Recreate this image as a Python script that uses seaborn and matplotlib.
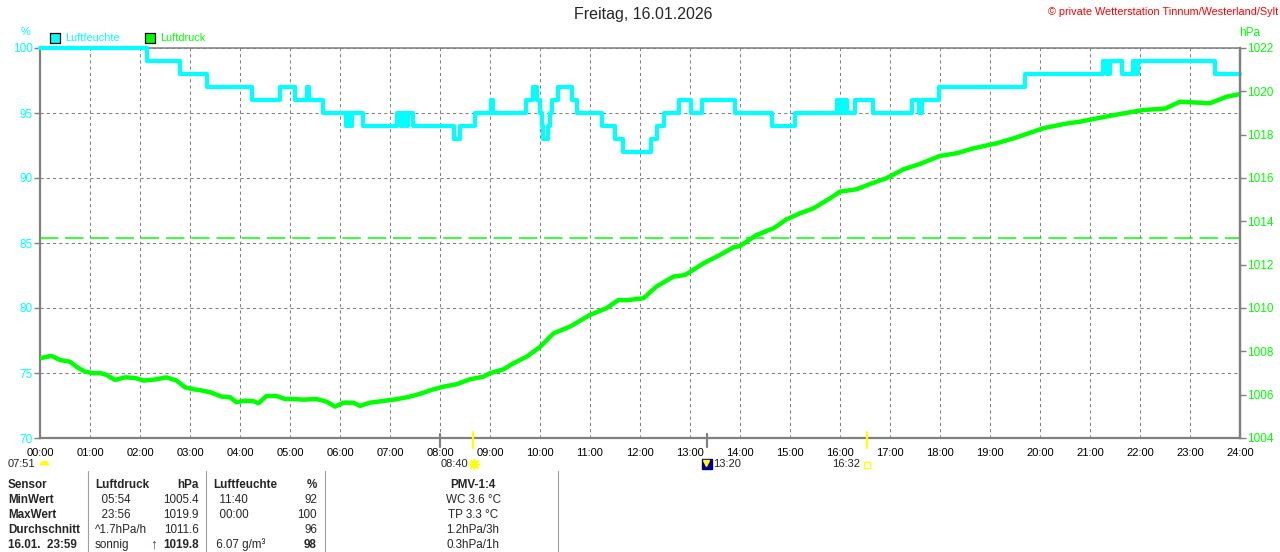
import matplotlib
matplotlib.use("Agg")
import matplotlib.pyplot as plt
import matplotlib.transforms as mtransforms
from matplotlib.patches import Rectangle
from matplotlib.lines import Line2D
from matplotlib.markers import MarkerStyle
import seaborn as sns

# Luftfeuchte (%), step changes: hour of day -> value
hum_hours = [0.00, 2.14, 2.80, 3.34, 4.24, 4.80, 5.10, 5.34, 5.38, 5.66,
             6.12, 6.16, 6.20, 6.24, 6.46, 7.14, 7.22, 7.26, 7.32, 7.36,
             7.46, 8.28, 8.40, 8.70, 9.02, 9.06, 9.72, 9.86, 9.94, 10.00,
             10.03, 10.06, 10.16, 10.20, 10.24, 10.36, 10.64, 10.74, 11.24, 11.50,
             11.66, 12.22, 12.34, 12.48, 12.78, 13.02, 13.24, 13.90, 14.64, 15.10,
             15.94, 15.98, 16.02, 16.06, 16.10, 16.14, 16.30, 16.66, 17.44, 17.58,
             17.64, 17.98, 19.70, 21.26, 21.34, 21.40, 21.64, 21.86, 21.92, 21.96,
             23.50, 24.00]
hum_values = [100, 99, 98, 97, 96, 97, 96, 97, 96, 95,
              94, 95, 94, 95, 94, 95, 94, 95, 94, 95,
              94, 93, 94, 95, 96, 95, 96, 97, 96, 95,
              94, 93, 94, 95, 96, 97, 96, 95, 94, 93,
              92, 93, 94, 95, 96, 95, 96, 95, 94, 95,
              96, 95, 96, 95, 96, 95, 96, 95, 96, 95,
              96, 97, 98, 99, 98, 99, 98, 99, 98, 99,
              98, 98]

# Luftdruck (hPa)
press_hours = [0.00, 0.23, 0.40, 0.60, 0.73, 0.90, 1.07, 1.20, 1.33, 1.50,
               1.70, 1.90, 2.07, 2.30, 2.53, 2.73, 2.90, 3.07, 3.27, 3.43,
               3.63, 3.80, 3.93, 4.10, 4.27, 4.37, 4.53, 4.73, 4.90, 5.07,
               5.27, 5.53, 5.73, 5.90, 6.07, 6.27, 6.40, 6.60, 6.87, 7.13,
               7.40, 7.63, 7.83, 8.07, 8.33, 8.60, 8.87, 9.00, 9.27, 9.47,
               9.73, 10.00, 10.27, 10.60, 11.00, 11.33, 11.57, 11.73, 12.07, 12.33,
               12.67, 12.90, 13.27, 13.60, 13.87, 14.00, 14.33, 14.67, 14.93, 15.20,
               15.47, 15.80, 16.00, 16.33, 16.67, 16.93, 17.27, 17.60, 18.00, 18.33,
               18.67, 19.13, 19.50, 20.07, 20.50, 20.80, 21.47, 22.07, 22.50, 22.80,
               23.40, 23.73, 23.97, 24.00]
press_values = [1007.68, 1007.79, 1007.60, 1007.52, 1007.29, 1007.06, 1006.99, 1007.00, 1006.91, 1006.68,
                1006.80, 1006.77, 1006.65, 1006.70, 1006.80, 1006.65, 1006.34, 1006.25, 1006.18, 1006.09,
                1005.91, 1005.88, 1005.65, 1005.72, 1005.70, 1005.60, 1005.94, 1005.94, 1005.80, 1005.80,
                1005.77, 1005.80, 1005.68, 1005.45, 1005.63, 1005.63, 1005.48, 1005.63, 1005.71, 1005.79,
                1005.91, 1006.06, 1006.22, 1006.37, 1006.48, 1006.71, 1006.83, 1006.99, 1007.17, 1007.45,
                1007.75, 1008.20, 1008.83, 1009.14, 1009.68, 1009.99, 1010.37, 1010.36, 1010.45, 1010.99,
                1011.45, 1011.52, 1012.06, 1012.45, 1012.80, 1012.86, 1013.37, 1013.68, 1014.09, 1014.37,
                1014.60, 1015.06, 1015.37, 1015.48, 1015.78, 1015.99, 1016.40, 1016.65, 1017.02, 1017.14,
                1017.37, 1017.60, 1017.85, 1018.30, 1018.50, 1018.60, 1018.90, 1019.14, 1019.20, 1019.52,
                1019.45, 1019.75, 1019.86, 1019.88]

hour_ticks = list(range(25))
hour_labels = [f"{h:02d}:00" for h in hour_ticks]
hum_ticks = [70, 75, 80, 85, 90, 95, 100]
press_ticks = list(range(1004, 1023, 2))
ref_pressure = 1013.25

# sun events (hour of day)
sunrise, sunset, noon = 8 + 40 / 60, 16 + 32 / 60, 13 + 20 / 60

# summary table
col_sensor = ["Sensor", "MinWert", "MaxWert", "Durchschnitt", "16.01.  23:59"]
col_press_info = ["Luftdruck", "  05:54", "  23:56", "^1.7hPa/h", "sonnig"]
col_press_val = ["hPa", "1005.4", "1019.9", "1011.6", "1019.8"]
col_hum_info = ["Luftfeuchte", "  11:40", "  00:00", "", " 6.07 g/m³"]
col_hum_val = ["%", "92", "100", "96", "98"]
col_pmv = ["PMV-1:4", "WC 3.6 °C", "TP 3.3 °C", "1.2hPa/3h", "0.3hPa/1h"]

CYAN = "#00ffff"
GREEN = "#00ff00"
GRAY = "#808080"
W, H = 1280, 552


def fx(px):
    return px / W


def fy(py):
    return 1 - py / H


sns.set_style("white")
plt.rcParams["font.family"] = ["Liberation Sans", "DejaVu Sans"]

fig = plt.figure(figsize=(W / 100, H / 100), dpi=100)
ax = fig.add_axes([fx(40), fy(438), 1200 / W, 390 / H])
ax2 = ax.twinx()

# grid
ax.set_axisbelow(True)
ax.grid(True, color=GRAY, linestyle=(0, (3, 3)), linewidth=0.75)

sns.lineplot(x=hum_hours, y=hum_values, ax=ax, color=CYAN, linewidth=3,
             drawstyle="steps-post", clip_on=False, zorder=3)
ax2.axhline(ref_pressure, color=GREEN, linewidth=1.1, dashes=(12, 4.5))
sns.lineplot(x=press_hours, y=press_values, ax=ax2, color=GREEN, linewidth=3.2)

ax.set_xlim(0, 24)
ax.set_ylim(70, 100)
ax2.set_ylim(1004, 1022)
ax.set_xticks(hour_ticks, hour_labels)
ax.set_yticks(hum_ticks)
ax2.set_yticks(press_ticks)

ax.tick_params(axis="x", length=4, width=1, color=GRAY, labelsize=8, pad=3, labelcolor="black")
ax.tick_params(axis="y", length=4, width=1, color=GRAY, labelsize=8.5, pad=1, labelcolor=CYAN)
ax2.tick_params(axis="y", length=4, width=1, color=GRAY, labelsize=8.5, pad=1, labelcolor=GREEN)
ax.set_xlabel("")
ax.set_ylabel("")
ax2.set_ylabel("")

for name, sp in ax.spines.items():
    sp.set_color(GRAY)
    sp.set_linewidth(1.1 if name == "top" else 1.6)
    sp.set_visible(True)
for name, sp in ax2.spines.items():
    sp.set_visible(name == "right")
    sp.set_color(GRAY)
    sp.set_linewidth(1.6)

# sun marks on time axis
tr = mtransforms.blended_transform_factory(ax.transData, ax.transAxes)
for t in (sunrise, sunset):
    ax.add_line(Line2D([t, t], [0.016, -0.026], transform=tr, color="#ffff00",
                       linewidth=1.6, clip_on=False, zorder=5))
for t in (8, noon):
    ax.add_line(Line2D([t, t], [0.01, -0.023], transform=tr, color=GRAY,
                       linewidth=1.6, clip_on=False, zorder=5))

# headers
fig.text(fx(643), fy(15), "Freitag, 16.01.2026", ha="center", va="center", fontsize=11.5)
fig.text(fx(1278), fy(12), "© private Wetterstation Tinnum/Westerland/Sylt", ha="right",
         va="center", fontsize=7.8, color="#ff0000")
fig.text(fx(26), fy(32), "%", ha="center", va="center", fontsize=8, color=CYAN)
fig.text(fx(1250), fy(33), "hPa", ha="center", va="center", fontsize=8.5, color=GREEN)
for x0, col, lab in ((50, CYAN, "Luftfeuchte"), (145, GREEN, "Luftdruck")):
    fig.patches.append(Rectangle((fx(x0), fy(43)), 10 / W, 10 / H, transform=fig.transFigure,
                                 facecolor=col, edgecolor="black", linewidth=0.9))
    fig.text(fx(x0 + 15), fy(38), lab, ha="left", va="center", fontsize=7.8, color=col)

# sun event labels
fig.text(fx(35), fy(464), "07:51", ha="right", va="center", fontsize=8)
fig.add_artist(Line2D([fx(44)], [fy(465)], marker=MarkerStyle("o", fillstyle="top"),
                      markersize=7, color="#ffff00", markerfacecoloralt="none",
                      markeredgecolor="none", transform=fig.transFigure))
fig.text(fx(468), fy(464), "08:40", ha="right", va="center", fontsize=8)
fig.add_artist(Line2D([fx(474)], [fy(464)], marker=(8, 2, 0), markersize=8,
                      markeredgecolor="#ffff00", markeredgewidth=1, transform=fig.transFigure))
fig.add_artist(Line2D([fx(474)], [fy(464)], marker="o", markersize=4.5, color="#ffff00",
                      transform=fig.transFigure))
fig.add_artist(Line2D([fx(707)], [fy(464)], marker="s", markersize=7, color="#000080",
                      transform=fig.transFigure))
fig.add_artist(Line2D([fx(706)], [fy(463)], marker="v", markersize=4, color="#ffff00",
                      transform=fig.transFigure))
fig.text(fx(713), fy(464), "13:20", ha="left", va="center", fontsize=8)
fig.text(fx(860), fy(464), "16:32", ha="right", va="center", fontsize=8)
fig.add_artist(Line2D([fx(867)], [fy(465)], marker="s", markersize=4.5, markerfacecolor="none",
                      markeredgecolor="#ffff00", markeredgewidth=1, transform=fig.transFigure))

# table separators
for xs in (88, 206, 325, 558):
    fig.add_artist(Line2D([fx(xs), fx(xs)], [fy(471), 0], color="#a0a0a0", linewidth=0.8,
                          transform=fig.transFigure))

row_y = [485, 500, 515, 530, 545]
for i, yy in enumerate(row_y):
    head = i == 0
    last = i == len(row_y) - 1
    fig.text(fx(8), fy(yy), col_sensor[i], ha="left", va="center", fontsize=8.4, fontweight="bold")
    fig.text(fx(95), fy(yy), col_press_info[i], ha="left", va="center", fontsize=8.4,
             fontweight="bold" if head else "normal")
    fig.text(fx(199), fy(yy), col_press_val[i], ha="right", va="center", fontsize=8.4,
             fontweight="bold" if head or last else "normal")
    fig.text(fx(213), fy(yy), col_hum_info[i], ha="left", va="center", fontsize=8.4,
             fontweight="bold" if head else "normal")
    fig.text(fx(317), fy(yy), col_hum_val[i], ha="right", va="center", fontsize=8.4,
             fontweight="bold" if head or last else "normal")
    fig.text(fx(473), fy(yy), col_pmv[i], ha="center", va="center", fontsize=8.4,
             fontweight="bold" if head else "normal")
fig.text(fx(154), fy(row_y[-1]), "↑", ha="center", va="center", fontsize=10,
         fontweight="bold", color="#1f3a80")

fig.savefig("out.png", dpi=100, facecolor="white")
